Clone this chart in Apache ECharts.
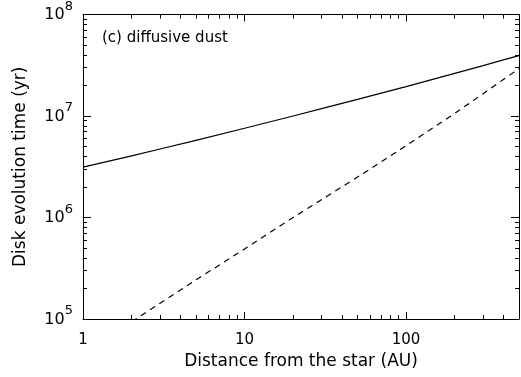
<!DOCTYPE html>
<html>
<head>
<meta charset="utf-8">
<script src="https://cdn.jsdelivr.net/npm/echarts@6/dist/echarts.min.js"></script>
<style>
  html, body { margin: 0; padding: 0; background: #fff; }
  #chart { width: 521px; height: 377px; }
</style>
</head>
<body>
<div id="chart"></div>
<script>
// Distance from the star (AU)
const distance = [1, 2, 3, 5, 10, 20, 30, 50, 100, 200, 300, 400, 500];
// Disk evolution time (yr), solid curve
const timeSolid = [3.13e6, 4.05e6, 4.73e6, 5.76e6, 7.57e6, 1.0e7, 1.18e7, 1.46e7, 1.95e7, 2.63e7, 3.14e7, 3.57e7, 3.94e7];

// Dashed curve
const distanceDashed = [2, 5, 10, 20, 50, 100, 200, 300, 400, 500];
const timeDashed = [9.4e4, 2.43e5, 4.9e5, 1.0e6, 2.5e6, 5.1e6, 1.06e7, 1.66e7, 2.29e7, 2.92e7];

// Tick values
const xMajor = [1, 10, 100];
const xMinor = [2, 3, 4, 5, 6, 7, 8, 9, 20, 30, 40, 50, 60, 70, 80, 90, 200, 300, 400, 500];
const yMajor = [1e5, 1e6, 1e7, 1e8];
const yMinor = [];
[1e5, 1e6, 1e7].forEach(d => { for (let k = 2; k <= 9; k++) yMinor.push(k * d); });

const FONT = 'DejaVu Sans';
const lineStyle = { color: '#000', width: 1 };

function xAxisDef(pos, ticks, len, withLabels, withLine) {
  return {
    type: 'log', logBase: 10, min: 1, max: 500, position: pos,
    axisLine: { show: withLine, onZero: false, lineStyle },
    axisTick: { show: true, inside: true, length: len, customValues: ticks, lineStyle },
    axisLabel: withLabels ? {
      show: true, customValues: xMajor, color: '#000', fontFamily: FONT, fontSize: 15, margin: 14
    } : { show: false },
    splitLine: { show: false },
    minorTick: { show: false }
  };
}
function yAxisDef(pos, ticks, len, withLabels, withLine) {
  return {
    type: 'log', logBase: 10, min: 1e5, max: 1e8, position: pos,
    axisLine: { show: withLine, onZero: false, lineStyle },
    axisTick: { show: true, inside: true, length: len, customValues: ticks, lineStyle },
    axisLabel: withLabels ? {
      show: true, customValues: yMajor, margin: 10,
      formatter: v => '{b|10}{s|' + Math.round(Math.log10(v)) + '}',
      rich: {
        b: { fontFamily: FONT, fontSize: 16, color: '#000', verticalAlign: 'bottom', lineHeight: 17, padding: [0, 0, 0, 0] },
        s: { fontFamily: FONT, fontSize: 13, color: '#000', verticalAlign: 'bottom', lineHeight: 14, padding: [0, 0, 10, 0] }
      }
    } : { show: false },
    splitLine: { show: false },
    minorTick: { show: false }
  };
}

const xAxes = [
  Object.assign(xAxisDef('bottom', xMajor, 7, true, true), {
    name: 'Distance from the star (AU)', nameLocation: 'middle', nameGap: 32,
    nameTextStyle: { fontFamily: FONT, fontSize: 17, color: '#000' }
  }),
  xAxisDef('bottom', xMinor, 4, false, false),
  xAxisDef('top', xMajor, 7, false, true),
  xAxisDef('top', xMinor, 4, false, false)
];
const yAxes = [
  Object.assign(yAxisDef('left', yMajor, 8, true, true), {
    name: 'Disk evolution time (yr)', nameLocation: 'middle', nameGap: 54, nameRotate: 90,
    nameTextStyle: { fontFamily: FONT, fontSize: 17, color: '#000' }
  }),
  yAxisDef('left', yMinor, 4, false, false),
  yAxisDef('right', yMajor, 8, false, true),
  yAxisDef('right', yMinor, 4, false, false)
];

const chart = echarts.init(document.getElementById('chart'), null, { renderer: 'canvas' });
chart.setOption({
  animation: false,
  backgroundColor: '#fff',
  grid: { left: 83, right: 2, top: 10, bottom: 58, containLabel: false },
  xAxis: xAxes,
  yAxis: yAxes,
  graphic: [{
    type: 'text', left: 102, top: 31,
    style: { text: '(c) diffusive dust', fontFamily: FONT, fontSize: 15, fill: '#000' }
  }],
  series: [
    {
      type: 'line', xAxisIndex: 0, yAxisIndex: 0, symbol: 'none', smooth: false, clip: true,
      lineStyle: { color: '#000', width: 1.2 },
      data: distance.map((d, i) => [d, timeSolid[i]])
    },
    {
      type: 'line', xAxisIndex: 0, yAxisIndex: 0, symbol: 'none', smooth: false, clip: true,
      lineStyle: { color: '#000', width: 1.2, type: [6, 5] },
      data: distanceDashed.map((d, i) => [d, timeDashed[i]])
    }
  ]
});
</script>
</body>
</html>
